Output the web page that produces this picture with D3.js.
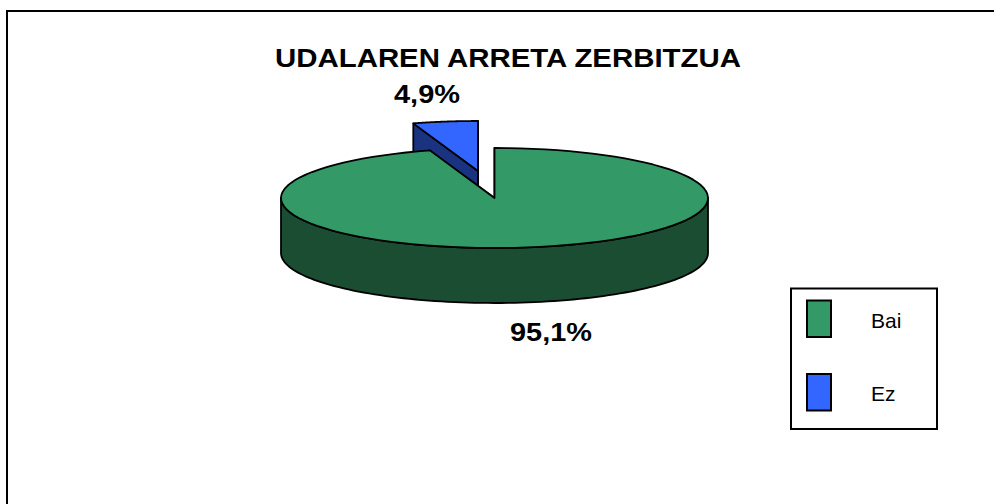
<!DOCTYPE html>
<html><head><meta charset="utf-8">
<script src="https://cdn.jsdelivr.net/npm/d3@7/dist/d3.min.js"></script>
<style>html,body{margin:0;padding:0;background:#fff}svg{display:block}text{font-family:"Liberation Sans",Arial,sans-serif}</style>
</head><body><svg id="c" width="994" height="504"></svg>
<script>
const categories=["Bai","Ez"];
const values=[95.1,4.9];
const labels=["95,1%","4,9%"];
const colors=["#339966","#3366FF"];
const sideColors=["#1B4D33","#1A3380"];
const title="UDALAREN ARRETA ZERBITZUA";

const svg=d3.select("#c");
svg.append("path").attr("d","M7,504V11H994").attr("fill","none").attr("stroke","#000").attr("stroke-width",2);

const cx=494.5,cy=198,rx=213.5,ry=50,depth=55,sw=1.8;
const pie=d3.pie().sort(null).value(d=>d);
const arcs=pie(values);
const px=(a,ox)=>ox+rx*Math.sin(a), py=(a,oy)=>oy-ry*Math.cos(a);
const line=d3.line();
function sample(a0,a1,ox,oy,dy=0){
  return d3.range(0,101).map(i=>{const a=a0+(a1-a0)*i/100;return [px(a,ox),py(a,oy)+dy];});
}
function drawSlice(i,ox,oy){
  const d=arcs[i];
  const g=svg.append("g");
  const st=d.startAngle,en=d.endAngle;
  const apex=[ox,oy];
  [st,en].forEach(a=>{
    const p=[px(a,ox),py(a,oy)];
    g.append("path").attr("d",line([apex,p,[p[0],p[1]+depth],[apex[0],apex[1]+depth]])+"Z")
     .attr("fill",sideColors[i]).attr("stroke","#000").attr("stroke-width",sw).attr("stroke-linejoin","round");
  });
  const lo=Math.max(st,Math.PI/2),hi=Math.min(en,Math.PI*1.5);
  if(hi>lo){
    const top=sample(lo,hi,ox,oy),bot=sample(hi,lo,ox,oy,depth);
    g.append("path").attr("d",line(top.concat(bot))+"Z")
     .attr("fill",sideColors[i]).attr("stroke","#000").attr("stroke-width",sw).attr("stroke-linejoin","round");
  }
  g.append("path").attr("d",line([apex].concat(sample(st,en,ox,oy)))+"Z")
   .attr("fill",colors[i]).attr("stroke","#000").attr("stroke-width",sw).attr("stroke-linejoin","round");
}
drawSlice(1,cx-16.5,cy-27);
drawSlice(0,cx,cy);

svg.append("text").attr("x",508).attr("y",66.5).attr("text-anchor","middle")
  .attr("font-size",26).attr("font-weight","bold").attr("textLength",466).attr("lengthAdjust","spacingAndGlyphs").text(title);
svg.append("text").attr("x",551).attr("y",341).attr("text-anchor","middle").attr("font-size",26.5).attr("font-weight","bold").attr("textLength",82).attr("lengthAdjust","spacingAndGlyphs").text(labels[0]);
svg.append("text").attr("x",427).attr("y",102.5).attr("text-anchor","middle").attr("font-size",26.5).attr("font-weight","bold").attr("textLength",66).attr("lengthAdjust","spacingAndGlyphs").text(labels[1]);

svg.append("rect").attr("x",791).attr("y",288.5).attr("width",146).attr("height",140.5).attr("fill","#fff").attr("stroke","#000").attr("stroke-width",2);
const y=d3.scalePoint().domain(categories).range([318.5,392]);
const lg=svg.selectAll(".lg").data(categories).join("g").attr("class","lg").attr("transform",d=>`translate(0,${y(d)})`);
lg.append("rect").attr("x",807).attr("y",-18).attr("width",24).attr("height",36.5).attr("fill",(d,i)=>colors[i]).attr("stroke","#000").attr("stroke-width",2);
lg.append("text").attr("x",871).attr("y",9).attr("font-size",21).attr("fill","#000").text(d=>d);
</script></body></html>
